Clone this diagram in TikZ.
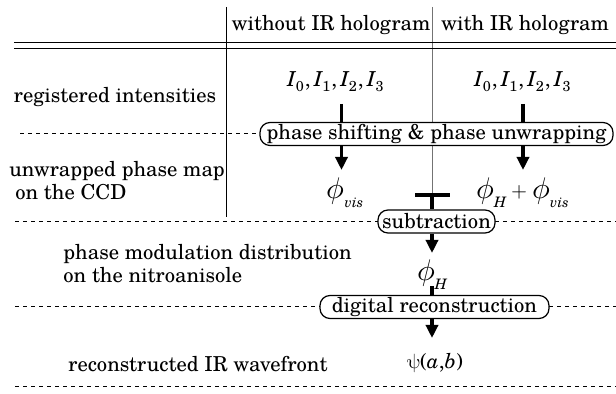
\documentclass[tikz,border=0pt]{standalone}
\usepackage{fontspec}
\usepackage{unicode-math}
\setmainfont{texgyreschola}[Extension=.otf, UprightFont=*-regular, ItalicFont=*-italic, BoldFont=*-bold, BoldItalicFont=*-bolditalic]
\setmathfont{latinmodern-math.otf}
\setmathfont{texgyreschola-italic.otf}[range={it/{Latin,latin}}]
\setmathfont{texgyreschola-regular.otf}[range={up/num,"28,"29,"2C}]
\usetikzlibrary{arrows.meta}
\newcommand{\bigphi}{\mathord{\raisebox{-0.6pt}{\scalebox{1.45}{$\phi$}}}}
\tikzset{
  every node/.style={font=\fontsize{10.3}{11.5}\selectfont, inner sep=0pt},
  proc/.style={draw, line width=0.6pt, rounded corners=5pt, fill=white, inner xsep=2pt, minimum height=11.5pt},
  thinline/.style={line width=0.5pt},
  grayline/.style={line width=0.5pt, draw=black!55},
  dashline/.style={line width=0.5pt, dash pattern=on 2pt off 2pt},
  stubline/.style={line width=1.9pt},
  flow/.style={line width=1.9pt, -{Triangle[width=6pt,length=6.5pt]}},
  lbl/.style={align=left, anchor=west},
}
\begin{document}
\begin{tikzpicture}[x=0.5pt, y=-0.5pt]
\useasboundingbox (0,0) rectangle (616,394);
% column coordinates
\coordinate (c1) at (341.5,0);
\coordinate (c2) at (523,0);
\coordinate (c3) at (432,0);
\coordinate (vAtop) at (226.7,7);
\coordinate (vAbot) at (226.7,217);
\coordinate (vBtop) at (432,7);
\coordinate (bar) at (432,195);
\coordinate (barL) at (415,195);
\coordinate (barR) at (450,195);
\coordinate (hA1) at (14,43);
\coordinate (hA2) at (616,43);
\coordinate (hB1) at (14,49);
\coordinate (hB2) at (616,49);
\coordinate (d1) at (20,134);
\coordinate (d2L) at (15,222);
\coordinate (d2R) at (616,222);
\coordinate (d3L) at (15,307);
\coordinate (d3R) at (616,307);
\coordinate (d4L) at (15,387);
\coordinate (d4R) at (616,387);

% table lines
\draw[thinline] (vAtop) -- (vAbot);
\draw[grayline] (vBtop) -- (bar);
\draw[thinline] (hA1) -- (hA2);
\draw[thinline] (hB1) -- (hB2);

% headers
\node (h1) at (331,25) {without IR hologram};
\node (h2) at (525,25) {with IR hologram};

% row labels
\node (r1) at (115,97) {registered intensities};
\node[lbl] (r2) at (9,181) {unwrapped phase map\\\hspace*{3pt}on the CCD};
\node[lbl] (r3) at (63,263.5) {phase modulation distribution\\on the nitroanisole};
\node[lbl] (r4) at (68,364) {reconstructed IR wavefront};

% data
\node (I1) at (336,82) {$I_0, I_1, I_2, I_3$};
\node (I2) at (523,82) {$I_0, I_1, I_2, I_3$};
\node (pv) at (345.5,193) {$\bigphi_{vis}$};
\node (ph) at (523,193) {$\bigphi_H + \bigphi_{vis}$};
\node (pH) at (432.5,275) {$\bigphi_H$};
\node (psi) at (435,363) {$\uppsi(a{,}b)$};

% dashed separators
\draw[dashline] (d1) -- (260,134);
\draw[dashline] (d2L) -- (378,222);
\draw[dashline] (495,222) -- (d2R);
\draw[dashline] (d3L) -- (320,307);
\draw[dashline] (549,307) -- (d3R);
\draw[dashline] (d4L) -- (d4R);

% process nodes
\node[proc, minimum width=176.5pt] (ps) at (436.5,134) {phase shifting \& phase unwrapping};
\node[proc, minimum width=58.5pt] (sub) at (436.5,221.5) {subtraction};
\node[proc, minimum width=114.5pt] (dr) at (434.5,307) {digital reconstruction};

% connectors
\draw[stubline, shorten <=11pt] (I1.center -| c1) -- (ps.north -| c1);
\draw[stubline, shorten <=11pt] (I2.center -| c2) -- (ps.north -| c2);
\draw[flow, shorten >=11.5pt] (ps.south -| c1) -- (pv.center -| c1);
\draw[flow, shorten >=11.5pt] (ps.south -| c2) -- (ph.center -| c2);
\draw[stubline] (barL) -- (barR);
\draw[stubline] (bar) -- (sub.north -| c3);
\draw[flow, shorten >=11pt] (sub.south -| c3) -- (pH.center -| c3);
\draw[stubline, shorten <=5.5pt] (pH.center -| c3) -- (dr.north -| c3);
\draw[flow, shorten >=12.5pt] (dr.south -| c3) -- (psi.center -| c3);
\end{tikzpicture}
\end{document}
